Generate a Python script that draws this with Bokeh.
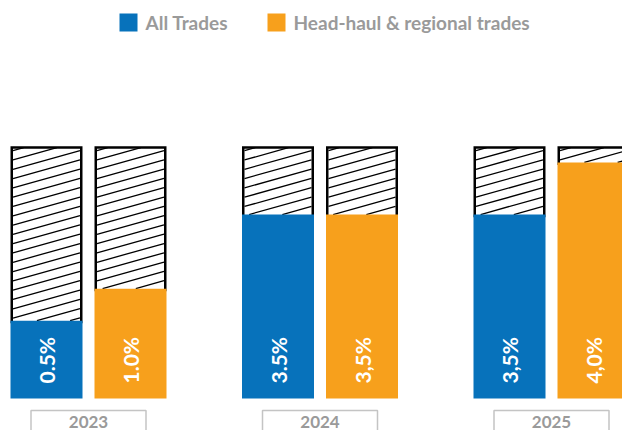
import numpy as np
from bokeh.plotting import figure
from bokeh.embed import file_html
from bokeh.resources import INLINE
from bokeh.core.properties import value

# ---- data ----
years = ["2023", "2024", "2025"]
series_names = ["All Trades", "Head-haul & regional trades"]
all_trades_labels = ["0.5%", "3.5%", "3,5%"]
head_haul_labels = ["1.0%", "3,5%", "4,0%"]
# bar heights as drawn (hidden axis, arbitrary units)
all_trades_heights = [1.48, 3.5, 3.5]
head_haul_heights = [2.09, 3.5, 4.49]
ceiling_heights = [4.79, 4.79, 4.79]

BLUE = "#0772bb"
ORANGE = "#f7a01c"
GREY_TXT = "#9a9a9a"
FONT = "Lato"

W, H = 622, 430
SX = 231.5          # px per x unit (one year group)
SY = 52.57          # px per y unit
BASE = 398.0        # page y of the bars' baseline
x_start = -88.0 / SX
x_end = x_start + W / SX
y_start = -(H - BASE) / SY
y_end = BASE / SY

def X(px):  # page px -> data x
    return x_start + px / SX

def Y(py):  # page px -> data y
    return (BASE - py) / SY

def PX(x):
    return (x - x_start) * SX

def PY(y):
    return BASE - y * SY

p = figure(width=W, height=H, output_backend="svg", toolbar_location=None,
           x_range=(x_start, x_end), y_range=(y_start, y_end),
           min_border=0, outline_line_color=None)
p.axis.visible = False
p.grid.visible = False
p.background_fill_color = "white"
p.border_fill_color = "white"

idx = np.arange(len(years), dtype=float)
dodge = 42.0 / SX
bw = 72.0 / SX
xb = idx - dodge
xo = idx + dodge

# hatched background columns
all_x = np.concatenate([xb, xo])
all_tops = np.concatenate([all_trades_heights, head_haul_heights])
ceil = np.concatenate([ceiling_heights, ceiling_heights])
p.vbar(x=all_x, width=bw, top=ceil, bottom=all_tops - 0.05,
       fill_color="white", line_color=None)

# hatch lines (shallow diagonal) computed from bar geometry
slope = 0.28   # rise per px
spacing = 9.3  # vertical px between lines
hx, hy = [], []
bx, by = [], []
lw_border = 2.5
for xc, top, ct in zip(all_x, all_tops, ceil):
    L = PX(xc - bw / 2) + lw_border
    R = PX(xc + bw / 2) - lw_border
    T = PY(ct) + 1
    B = PY(top)
    w = R - L
    c = T + 3.0
    while c < B + slope * w:
        x0, y0 = L, c
        x1, y1 = R, c - slope * w
        if y0 > B:
            x0 = L + (c - B) / slope
            y0 = B
        if y1 < T:
            x1 = L + (c - T) / slope
            y1 = T
        if x1 > x0:
            hx.append([X(x0), X(x1)])
            hy.append([Y(y0), Y(y1)])
        c += spacing
    # borders: left, top, right
    Lb = PX(xc - bw / 2) + lw_border / 2
    Rb = PX(xc + bw / 2) - lw_border / 2
    Tb = PY(ct) + 0.8
    bx.append([X(Lb), X(Lb), X(Rb), X(Rb)])
    by.append([top - 0.05, Y(Tb), Y(Tb), top - 0.05])

p.multi_line(xs=hx, ys=hy, line_color="black", line_width=1.3)
p.multi_line(xs=bx, ys=by, line_color="black", line_width=lw_border,
             line_join="miter")

# coloured bars
p.vbar(x=xb, width=bw, top=all_trades_heights, bottom=0,
       fill_color=BLUE, line_color=None)
p.vbar(x=xo, width=bw, top=head_haul_heights, bottom=0,
       fill_color=ORANGE, line_color=None)

# rotated value labels
lab_y = Y(383)
for xs_, labs in ((xb, all_trades_labels), (xo, head_haul_labels)):
    p.text(x=xs_, y=[lab_y] * 3, text=labs, angle=np.pi / 2,
           text_align="left", text_baseline="middle", text_color="white",
           text_font=value(FONT), text_font_style="bold", text_font_size="21px")

# year boxes
box_w = 115.0 / SX
p.quad(left=idx - box_w / 2, right=idx + box_w / 2,
       top=[Y(410)] * 3, bottom=[Y(445)] * 3,
       fill_color=None, line_color="#c4c4c4", line_width=1.5)
p.text(x=idx, y=[Y(427)] * 3, text=years, text_align="center",
       text_baseline="bottom", text_color=GREY_TXT,
       text_font=value(FONT), text_font_style="bold", text_font_size="17px")

# legend
sq = 18.0
leg_sq_left = [119.0, 267.0]
leg_colors = [BLUE, ORANGE]
leg_txt_left = [145.0, 293.0]
p.quad(left=[X(v) for v in leg_sq_left], right=[X(v + sq) for v in leg_sq_left],
       top=[Y(13)] * 2, bottom=[Y(13 + sq)] * 2,
       fill_color=leg_colors, line_color=None)
p.text(x=[X(v) for v in leg_txt_left], y=[Y(22)] * 2, text=series_names,
       text_align="left", text_baseline="middle", text_color=GREY_TXT,
       text_font=value(FONT), text_font_style="bold", text_font_size="19px")

open("out.html", "w").write(file_html(p, INLINE))
